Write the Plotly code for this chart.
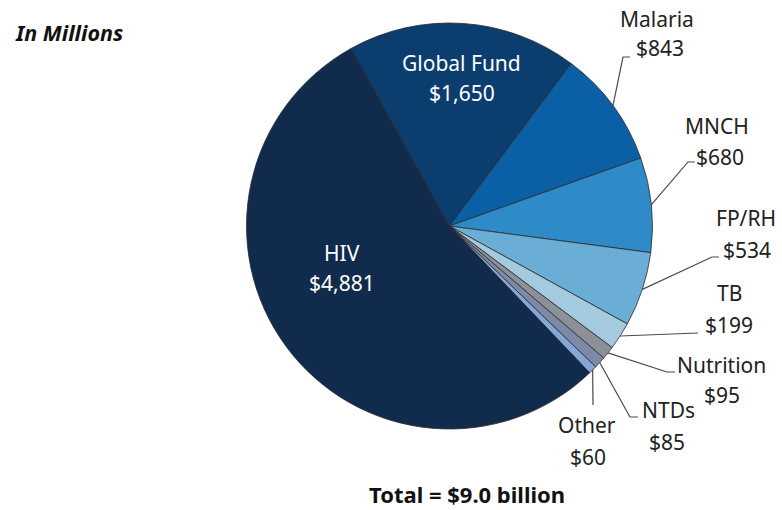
import math
import plotly.graph_objects as go

# slices in clockwise order, starting at the upper left
categories = ["Global Fund", "Malaria", "MNCH", "FP/RH", "TB", "Nutrition", "NTDs", "Other", "HIV"]
values = [1650, 843, 680, 534, 199, 95, 85, 60, 4881]
value_labels = ["$1,650", "$843", "$680", "$534", "$199", "$95", "$85", "$60", "$4,881"]
colors = ["#0b3d6f", "#0a5fa5", "#2f8bc7", "#6aaed6", "#a4cae0",
          "#8b9099", "#7c8aa8", "#86a5d8", "#112b4d"]

W, H = 782, 510
cx, cy, r = 449.5, 226, 203   # pie centre / radius in window pixels
start_angle = -29


def paper(x, y):
    return x / W, 1 - y / H


x0, y1 = paper(cx - r, cy - r)
x1, y0 = paper(cx + r, cy + r)

fig = go.Figure(go.Pie(
    labels=categories, values=values, sort=False, direction="clockwise",
    rotation=start_angle, textinfo="none", hoverinfo="label+value",
    showlegend=False,
    marker=dict(colors=colors, line=dict(color="#2b2b2b", width=0.8)),
    domain=dict(x=[x0, x1], y=[y0, y1]),
))

# label placement (pixels): leader-line bend points, name centre, value centre
outside = {
    "Malaria": ([(623, 57), (630, 57)], (657, 19), (660, 48)),
    "MNCH": ([(688, 162), (695, 162)], (717, 126), (720, 157)),
    "FP/RH": ([(712, 257), (719, 257)], (746, 218), (747, 250)),
    "TB": ([(698, 333)], (729, 293), (729, 325)),
    "Nutrition": ([(667, 372), (675, 372)], (721, 365), (722, 395)),
    "NTDs": ([(630, 417), (638, 417)], (668, 410), (667, 442)),
    "Other": ([(593, 405)], (587, 425), (588, 457)),
}
inside = {
    "Global Fund": ((461, 63), (462, 93)),
    "HIV": ((342, 253), (342, 283)),
}

total = sum(values)
cum = 0
shapes = []
annotations = []
for cat, val, lab in zip(categories, values, value_labels):
    mid = start_angle + (cum + val / 2) / total * 360
    cum += val
    if cat in outside:
        bends, name_pos, val_pos = outside[cat]
        a = math.radians(mid)
        ex, ey = cx + r * math.sin(a), cy - r * math.cos(a)
        pts = [paper(ex, ey)] + [paper(x, y) for x, y in bends]
        path = "M " + " L ".join(f"{x:.4f},{y:.4f}" for x, y in pts)
        shapes.append(dict(type="path", path=path, xref="paper", yref="paper",
                           line=dict(color="#4a4a4a", width=1.2)))
        color = "#222222"
    elif cat in inside:
        name_pos, val_pos = inside[cat]
        color = "#ffffff"
    else:
        continue
    for text, (x, y) in [(cat, name_pos), (lab, val_pos)]:
        px_, py_ = paper(x, y)
        annotations.append(dict(text=text, x=px_, y=py_, xref="paper", yref="paper",
                                showarrow=False, xanchor="center", yanchor="middle",
                                font=dict(size=21, color=color)))

annotations.append(dict(text="<b><i>In Millions</i></b>", x=paper(13, 0)[0], y=paper(0, 32)[1],
                        xref="paper", yref="paper", showarrow=False,
                        xanchor="left", yanchor="middle",
                        font=dict(size=21.5, color="#111111")))
annotations.append(dict(text="<b>Total = $9.0 billion</b>", x=paper(467, 0)[0], y=paper(0, 494)[1],
                        xref="paper", yref="paper", showarrow=False,
                        xanchor="center", yanchor="middle",
                        font=dict(size=22, color="#111111")))

fig.update_layout(
    width=W, height=H,
    margin=dict(l=0, r=0, t=0, b=0),
    paper_bgcolor="white",
    plot_bgcolor="white",
    font=dict(family="Noto Sans, sans-serif"),
    shapes=shapes,
    annotations=annotations,
)

# drop the default 8px body margin so the figure fills the window exactly
fig.write_html("out.html", config={"displayModeBar": False},
               post_script="document.body.style.margin = '0';")
